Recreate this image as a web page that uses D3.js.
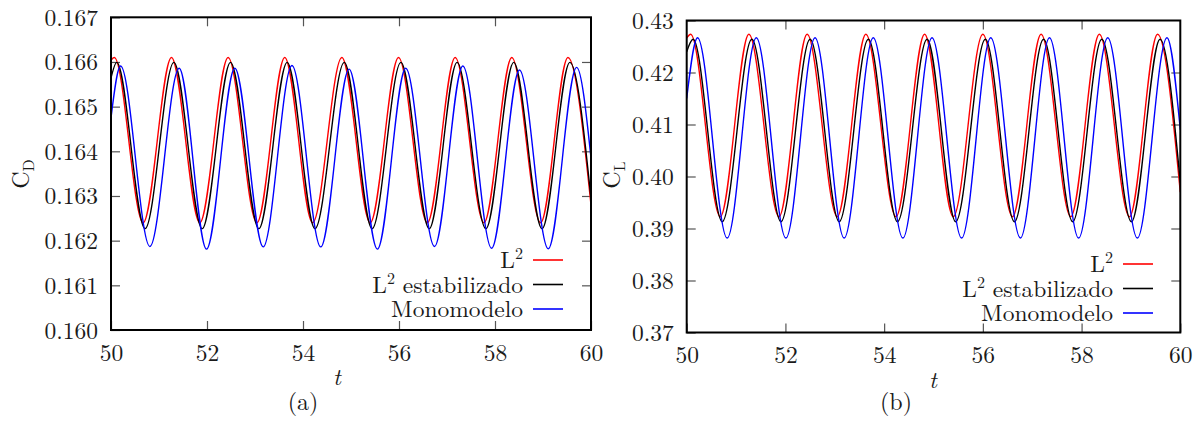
<!DOCTYPE html>
<html><head><meta charset="utf-8">
<script src="https://cdn.jsdelivr.net/npm/d3@7"></script>
<style>
html,body{margin:0;padding:0;background:#fff;}
</style></head>
<body><svg id="chart" width="1200" height="430"></svg>
<script>
// ---- data ----
const tTicks = [50, 52, 54, 56, 58, 60];
const cdTicks = [0.160, 0.161, 0.162, 0.163, 0.164, 0.165, 0.166, 0.167];
const clTicks = [0.37, 0.38, 0.39, 0.40, 0.41, 0.42, 0.43];
const seriesNames = ["L2", "L2 estabilizado", "Monomodelo"];

const cdL2 = [[50,0.16604],[50.07,0.16610],[50.67,0.16240],[51.26,0.16610],[51.85,0.16240],[52.44,0.16610],[53.04,0.16240],[53.62,0.16610],[54.20,0.16240],[54.81,0.16610],[55.40,0.16240],[55.99,0.16610],[56.59,0.16240],[57.17,0.16610],[57.77,0.16240],[58.35,0.16610],[58.95,0.16240],[59.52,0.16610],[60,0.16280]];
const cdL2stab = [[50,0.16564],[50.12,0.16599],[50.71,0.16227],[51.31,0.16599],[51.90,0.16227],[52.49,0.16599],[53.08,0.16227],[53.67,0.16599],[54.25,0.16227],[54.86,0.16599],[55.44,0.16227],[56.04,0.16599],[56.63,0.16227],[57.21,0.16599],[57.81,0.16227],[58.39,0.16599],[58.98,0.16227],[59.56,0.16599],[60,0.16294]];
const cdMono = [[50,0.16475],[50.20,0.16591],[50.81,0.16187],[51.42,0.16586],[51.99,0.16181],[52.58,0.16586],[53.17,0.16186],[53.77,0.16592],[54.37,0.16186],[54.96,0.16584],[55.55,0.16181],[56.14,0.16586],[56.74,0.16187],[57.33,0.16591],[57.93,0.16183],[58.51,0.16582],[59.11,0.16182],[59.70,0.16588],[60,0.16385]];

const clL2 = [[50,0.4266],[50.08,0.42735],[50.68,0.39227],[51.26,0.42735],[51.87,0.39227],[52.44,0.42735],[53.05,0.39227],[53.63,0.42735],[54.24,0.39227],[54.82,0.42735],[55.40,0.39227],[56.00,0.42735],[56.60,0.39227],[57.18,0.42735],[57.78,0.39227],[58.36,0.42735],[58.97,0.39227],[59.54,0.42735],[60,0.3970]];
const clL2stab = [[50,0.4240],[50.13,0.42638],[50.72,0.39131],[51.32,0.42638],[51.91,0.39131],[52.50,0.42638],[53.09,0.39131],[53.68,0.42638],[54.27,0.39131],[54.87,0.42638],[55.45,0.39131],[56.05,0.42638],[56.64,0.39131],[57.23,0.42638],[57.82,0.39131],[58.41,0.42638],[59.01,0.39131],[59.59,0.42638],[60,0.3988]];
const clMono = [[50,0.4150],[50.22,0.42669],[50.82,0.38817],[51.41,0.42669],[52.01,0.38817],[52.60,0.42669],[53.19,0.38817],[53.78,0.42669],[54.38,0.38817],[54.97,0.42669],[55.57,0.38817],[56.16,0.42669],[56.76,0.38817],[57.35,0.42669],[57.94,0.38817],[58.53,0.42669],[59.13,0.38817],[59.73,0.42669],[60,0.4090]];

const colors = ["#ff0000", "#000000", "#0000ff"];
const FONT = '"Latin Modern Roman","CMU Serif","Liberation Serif",serif';
const FS = 23.5;

// ---- drawing ----
const svg = d3.select("#chart");
svg.append("rect").attr("width",1200).attr("height",430).attr("fill","#fff");

function styleText(sel, size){
  return sel.style("font-family", FONT).style("font-size", size + "px").style("fill", "#1a1a1a");
}

function panel(cfg){
  const x = d3.scaleLinear().domain([50,60]).range([cfg.x0, cfg.x1]);
  const y = d3.scaleLinear().domain(cfg.ydom).range([cfg.y1, cfg.y0]);
  const g = svg.append("g");
  const id = "clip" + cfg.key;
  g.append("clipPath").attr("id", id).append("rect")
    .attr("x", cfg.x0).attr("y", cfg.y0).attr("width", cfg.x1-cfg.x0).attr("height", cfg.y1-cfg.y0);

  // ticks on all sides (inward)
  const tickLen = 9;
  const axB = d3.axisBottom(x).tickValues(tTicks).tickSize(-tickLen).tickFormat(d3.format("d")).tickPadding(14);
  const gB = g.append("g").attr("transform",`translate(0,${cfg.y1})`).call(axB);
  const axT = d3.axisTop(x).tickValues(tTicks.slice(1,-1)).tickSize(-tickLen).tickFormat("");
  const gT = g.append("g").attr("transform",`translate(0,${cfg.y0})`).call(axT);
  const axL = d3.axisLeft(y).tickValues(cfg.yticks).tickSize(-tickLen).tickFormat(d3.format(cfg.fmt)).tickPadding(13);
  const gL = g.append("g").attr("transform",`translate(${cfg.x0},0)`).call(axL);
  const axR = d3.axisRight(y).tickValues(cfg.yticks.slice(1,-1)).tickSize(-tickLen).tickFormat("");
  const gR = g.append("g").attr("transform",`translate(${cfg.x1},0)`).call(axR);
  [gB,gT,gL,gR].forEach(a=>{
    a.select(".domain").remove();
    a.selectAll(".tick line").attr("stroke","#555").attr("stroke-width",1.2);
    styleText(a.selectAll(".tick text"), FS);
  });
  gB.selectAll(".tick text").attr("dy","0.71em");
  gL.selectAll(".tick text").attr("dy","0.34em");

  // series
  const line = d3.line().x(d=>x(d[0])).y(d=>y(d[1])).curve(d3.curveMonotoneX);
  const plot = g.append("g").attr("clip-path",`url(#${id})`);
  cfg.series.forEach((s,i)=>{
    plot.append("path").datum(s).attr("d",line)
      .attr("fill","none").attr("stroke",colors[i]).attr("stroke-width",1.4);
  });

  // frame
  g.append("rect").attr("x",cfg.x0).attr("y",cfg.y0)
    .attr("width",cfg.x1-cfg.x0).attr("height",cfg.y1-cfg.y0)
    .attr("fill","none").attr("stroke","#000").attr("stroke-width",2);

  // legend
  const lg = g.append("g");
  seriesNames.forEach((n,i)=>{
    const ly = cfg.legY + i*24.5;
    const t = styleText(lg.append("text"), FS).attr("x",cfg.legX).attr("y",ly+8).attr("text-anchor","end");
    if(n.startsWith("L2")){
      t.append("tspan").text("L");
      t.append("tspan").text("2").style("font-size","16px").attr("dy",-9);
      t.append("tspan").text(n.slice(2)).attr("dy",9);
    } else t.text(n);
    lg.append("line").attr("x1",cfg.legX+10).attr("x2",cfg.legX+40).attr("y1",ly).attr("y2",ly)
      .attr("stroke",colors[i]).attr("stroke-width",1.6);
  });

  // axis labels
  styleText(g.append("text"), FS).attr("x",cfg.tx).attr("y",cfg.y1+55).attr("text-anchor","middle")
    .style("font-style","italic").text("t");
  const yl = styleText(g.append("text"), 24).attr("transform",`translate(${cfg.ylx},${cfg.yly}) rotate(-90)`)
    .attr("text-anchor","middle");
  yl.append("tspan").text("C");
  yl.append("tspan").text(cfg.sub).style("font-size","16px").attr("dy",5);
  styleText(g.append("text"), 24).attr("x",cfg.capx).attr("y",410).attr("text-anchor","middle").text(cfg.cap);
}

panel({key:"a", x0:111, x1:591, y0:17.3, y1:330, ydom:[0.160,0.167], yticks:cdTicks, fmt:".3f",
  series:[cdL2, cdL2stab, cdMono], legX:523, legY:260, tx:337, ylx:29, yly:174, sub:"D", cap:"(a)", capx:303});
panel({key:"b", x0:686.7, x1:1180.3, y0:20.5, y1:332.5, ydom:[0.37,0.43], yticks:clTicks, fmt:".2f",
  series:[clL2, clL2stab, clMono], legX:1113, legY:264, tx:933, ylx:620, yly:175, sub:"L", cap:"(b)", capx:896});
</script></body></html>
